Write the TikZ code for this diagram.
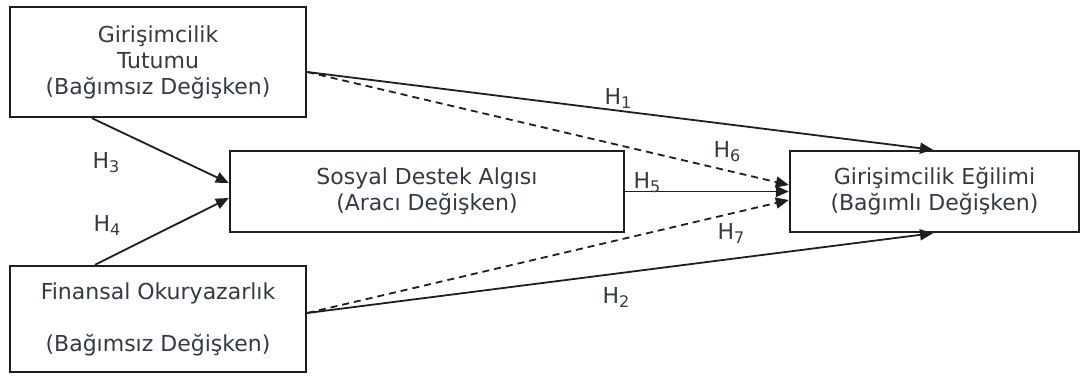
\documentclass[tikz,border=0pt]{standalone}
\usepackage{fontspec}
\setmainfont{DejaVu Sans}
\usetikzlibrary{arrows.meta}
\definecolor{txt}{HTML}{333A45}
\definecolor{ln}{HTML}{1E1E1E}
\newcommand\hlab[1]{H\raisebox{-4pt}{\fontsize{16}{16}\selectfont #1}}
\begin{document}
\begin{tikzpicture}[x=1pt,y=-1pt,
  box/.style={draw=ln, line width=2.4pt, fill=white, inner sep=0pt, align=center, text=txt, font=\fontsize{22}{26}\selectfont},
  arr/.style={draw=ln, line width=1.8pt, -{Triangle[length=13pt,width=11pt]}},
  dsh/.style={arr, dash pattern=on 7pt off 5pt},
  lbl/.style={text=txt, inner sep=0pt, font=\fontsize{22}{24}\selectfont}
]
\useasboundingbox (0,0) rectangle (1080,376);
\node[box, minimum width=296pt, minimum height=110pt] (A) at (158,62) {Girişimcilik\\Tutumu\\(Bağımsız Değişken)};
\node[box, minimum width=296pt, minimum height=106pt] (D) at (158,319) {Finansal Okuryazarlık\\[26pt](Bağımsız Değişken)};
\node[box, minimum width=394pt, minimum height=81pt] (B) at (427,191.5) {Sosyal Destek Algısı\\(Aracı Değişken)};
\node[box, minimum width=289pt, minimum height=81pt] (C) at (934.5,191.5) {Girişimcilik Eğilimi\\(Bağımlı Değişken)};
\coordinate (y72) at (0,72);
\coordinate (y313) at (0,313);
\coordinate (y185) at (0,185);
\coordinate (y200) at (0,200);
\coordinate (y183) at (0,183);
\coordinate (y198) at (0,198);
\coordinate (x933) at (933,0);
\coordinate (x92) at (92,0);
\coordinate (x95) at (95,0);
\draw[arr] (A.east |- y72) -- (C.north -| x933);
\draw[dsh] (A.east |- y72) -- (C.west |- y185);
\draw[arr] (B) -- (C);
\draw[dsh] (D.east |- y313) -- (C.west |- y200);
\draw[arr] (D.east |- y313) -- (C.south -| x933);
\draw[arr] (A.south -| x92) -- (B.west |- y183);
\draw[arr] (D.north -| x95) -- (B.west |- y198);
\node[lbl] (h1) at (618,98) {\hlab{1}};
\node[lbl] (h2) at (616,297) {\hlab{2}};
\node[lbl] (h3) at (106,163) {\hlab{3}};
\node[lbl] (h4) at (107,225) {\hlab{4}};
\node[lbl] (h5) at (647,183) {\hlab{5}};
\node[lbl] (h6) at (727,152) {\hlab{6}};
\node[lbl] (h7) at (731,233) {\hlab{7}};
\end{tikzpicture}
\end{document}
